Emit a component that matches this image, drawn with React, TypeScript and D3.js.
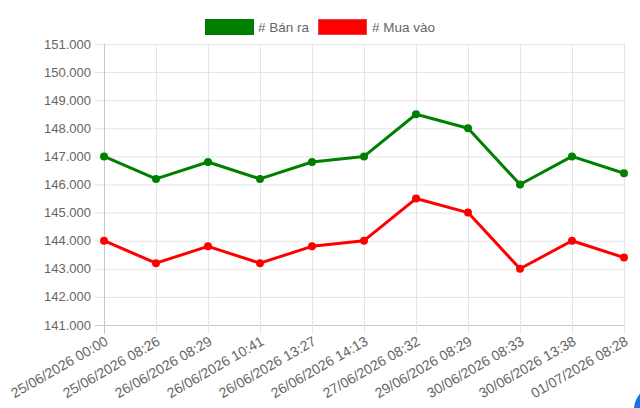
import React, { useEffect, useRef } from "react";
import * as d3 from "d3";

const labels = [
  "25/06/2026 00:00",
  "25/06/2026 08:26",
  "26/06/2026 08:29",
  "26/06/2026 10:41",
  "26/06/2026 13:27",
  "26/06/2026 14:13",
  "27/06/2026 08:32",
  "29/06/2026 08:29",
  "30/06/2026 08:33",
  "30/06/2026 13:38",
  "01/07/2026 08:28",
];
const banRa = [147000, 146200, 146800, 146200, 146800, 147000, 148500, 148000, 146000, 147000, 146400];
const muaVao = [144000, 143200, 143800, 143200, 143800, 144000, 145500, 145000, 143000, 144000, 143400];
const yTicks = [141000, 142000, 143000, 144000, 145000, 146000, 147000, 148000, 149000, 150000, 151000];

const W = 640;
const H = 408;
const FONT = "'Liberation Sans', Arial, Helvetica, sans-serif";

export default function App() {
  const ref = useRef<SVGSVGElement>(null);

  useEffect(() => {
    const svg = d3.select(ref.current);
    svg.selectAll("*").remove();

    const x = d3.scalePoint<string>().domain(labels).range([104, 624]);
    const y = d3.scaleLinear().domain([141000, 151000]).range([325, 44]);
    const fmt = (v: number) => d3.format(",")(v).replace(/,/g, ".");

    const grid = svg.append("g");
    // horizontal grid
    grid.selectAll("line.h")
      .data(yTicks)
      .enter().append("line")
      .attr("x1", 95).attr("x2", 624)
      .attr("y1", d => y(d) + 0.5).attr("y2", d => y(d) + 0.5)
      .attr("stroke", d => d === 141000 ? "#c8c8c8" : "#e4e4e4")
      .attr("stroke-width", 1);
    // vertical grid
    grid.selectAll("line.v")
      .data(labels)
      .enter().append("line")
      .attr("x1", d => x(d)! + 0.5).attr("x2", d => x(d)! + 0.5)
      .attr("y1", 44).attr("y2", 334)
      .attr("stroke", (d, i) => i === 0 ? "#c8c8c8" : "#e4e4e4")
      .attr("stroke-width", 1);

    // y labels
    svg.append("g").selectAll("text")
      .data(yTicks)
      .enter().append("text")
      .attr("x", 91)
      .attr("y", d => y(d))
      .attr("dy", "0.35em")
      .attr("text-anchor", "end")
      .attr("font-family", FONT)
      .attr("font-size", 13)
      .attr("fill", "#666")
      .text(d => fmt(d));

    // x labels
    svg.append("g").selectAll("text")
      .data(labels)
      .enter().append("text")
      .attr("transform", d => `translate(${x(d)! + 5},${344}) rotate(-30)`)
      .attr("text-anchor", "end")
      .attr("font-family", FONT)
      .attr("font-size", 14)
      .attr("fill", "#666")
      .text(d => d);

    const series = [
      { name: "# Bán ra", values: banRa, color: "#008000" },
      { name: "# Mua vào", values: muaVao, color: "#ff0000" },
    ];

    const line = d3.line<number>()
      .x((d, i) => x(labels[i])!)
      .y(d => y(d));

    series.forEach(s => {
      svg.append("path")
        .datum(s.values)
        .attr("fill", "none")
        .attr("stroke", s.color)
        .attr("stroke-width", 3)
        .attr("stroke-linejoin", "round")
        .attr("d", line);
      svg.append("g").selectAll("circle")
        .data(s.values)
        .enter().append("circle")
        .attr("cx", (d, i) => x(labels[i])!)
        .attr("cy", d => y(d))
        .attr("r", 4)
        .attr("fill", s.color);
    });

    // legend
    const legend = svg.append("g");
    const items = [
      { ...series[0], bx: 205, tx: 258 },
      { ...series[1], bx: 318, tx: 372 },
    ];
    items.forEach(it => {
      legend.append("rect")
        .attr("x", it.bx + 0.5).attr("y", 19.5)
        .attr("width", 48).attr("height", 15)
        .attr("fill", it.color)
        .attr("stroke", it.color === "#008000" ? "#0a700a" : "#e84040")
        .attr("stroke-width", 1);
      legend.append("text")
        .attr("x", it.tx).attr("y", 27)
        .attr("dy", "0.35em")
        .attr("font-family", FONT)
        .attr("font-size", 13.5)
        .attr("fill", "#666")
        .text(it.name);
    });

    // floating button edge
    svg.append("circle")
      .attr("cx", 660).attr("cy", 410)
      .attr("r", 26)
      .attr("fill", "#1a73e8");
  }, []);

  return (
    <svg
      ref={ref}
      width={W}
      height={H}
      style={{ position: "absolute", left: 0, top: 0, background: "#fff" }}
    />
  );
}
